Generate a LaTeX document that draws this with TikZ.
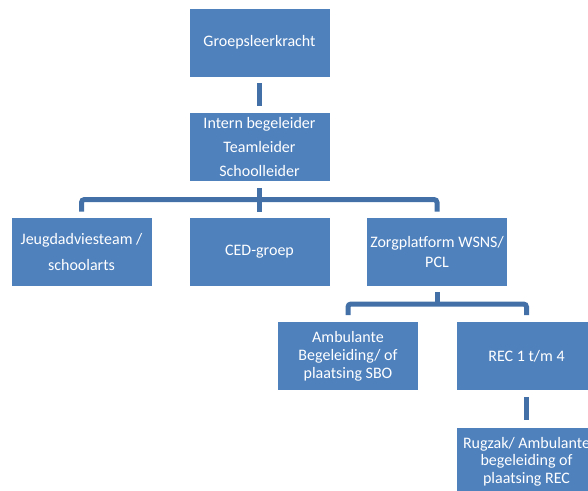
\documentclass[tikz,border=0pt]{standalone}
\usepackage{fontspec}
\setmainfont{Carlito}
\definecolor{boxblue}{RGB}{79,129,189}
\definecolor{lineblue}{RGB}{66,112,167}
\begin{document}
\begin{tikzpicture}[x=1pt,y=-1pt,
  orgbox/.style={rectangle, fill=boxblue, draw=white, line width=0.8pt,
    minimum width=141pt, minimum height=69pt, inner sep=0pt,
    text=white, align=center, font=\fontsize{16}{19}\selectfont},
  conn/.style={draw=lineblue, line width=5pt},
  bracket/.style={conn, rounded corners=3pt}]
\useasboundingbox (0,0) rectangle (588,490);
\clip (0,0) rectangle (588,490);

\node[orgbox] (g) at (259.5,42.5) {Groepsleerkracht};
\node[orgbox, font=\fontsize{16}{24}\selectfont] (i) at (259.5,147) {Intern begeleider\\Teamleider\\Schoolleider};
\node[orgbox, font=\fontsize{16}{26}\selectfont] (j) at (81.5,251.5) {Jeugdadviesteam /\\schoolarts};
\node[orgbox] (c) at (259.5,251.5) {CED-groep};
\node[orgbox, font=\fontsize{16}{20}\selectfont] (z) at (437,251.5) {Zorgplatform WSNS/\\PCL};
\node[orgbox, font=\fontsize{16}{18}\selectfont] (a) at (348,356) {Ambulante\\Begeleiding/ of\\plaatsing SBO};
\node[orgbox] (r) at (526.5,356) {REC 1 t/m 4};
\node[orgbox, font=\fontsize{16}{17.5}\selectfont] (k) at (526.5,461.5) {Rugzak/ Ambulante\\begeleiding of\\plaatsing REC};

\coordinate (b1) at (259.5,199.5);
\coordinate (b2) at (437,304);

\draw[conn, shorten <=6pt, shorten >=6pt] (g) -- (i);
\draw[conn] ([yshift=-6pt]i.south) -- ([yshift=5pt]c.north);
\draw[bracket] ([yshift=5pt]j.north) |- (b1) -| ([yshift=5pt]z.north);
\draw[conn] ([yshift=-6pt]z.south) -- (b2);
\draw[bracket] ([yshift=6pt]a.north) |- (b2) -| ([yshift=6pt]r.north);
\draw[conn, shorten <=6pt, shorten >=7pt] (r) -- (k);
\end{tikzpicture}
\end{document}
